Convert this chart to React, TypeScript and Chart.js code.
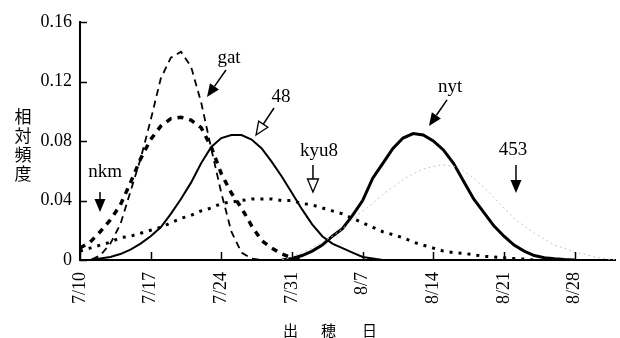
import React, { useEffect, useRef } from 'react';
import { Chart, registerables } from 'chart.js';

Chart.register(...registerables);

// x = days after 7/10
const xTickDays = [0, 7, 14, 21, 28, 35, 42, 49];
const xTickLabels = ['7/10', '7/17', '7/24', '7/31', '8/7', '8/14', '8/21', '8/28'];
const xMax = 53;
const yTickValues = [0, 0.04, 0.08, 0.12, 0.16];
const yTickLabels = ['0', '0.04', '0.08', '0.12', '0.16'];

const gatStart = 0;
const gatValues = [0, 0, 0.003, 0.011, 0.024, 0.046, 0.068, 0.094, 0.122, 0.136, 0.14, 0.13, 0.106, 0.075, 0.045, 0.019, 0.005, 0.001, 0];

const nkmStart = 0;
const nkmValues = [0.008, 0.012, 0.019, 0.027, 0.037, 0.052, 0.068, 0.081, 0.09, 0.095, 0.096, 0.094, 0.089, 0.076, 0.058, 0.045, 0.035, 0.023, 0.013, 0.008, 0.004, 0.0015, 0];

const s48Start = 0;
const s48Values = [0, 0, 0.001, 0.002, 0.004, 0.007, 0.011, 0.016, 0.022, 0.031, 0.041, 0.052, 0.065, 0.076, 0.082, 0.084, 0.084, 0.081, 0.075, 0.066, 0.056, 0.045, 0.034, 0.024, 0.016, 0.011, 0.008, 0.005, 0.002, 0.001, 0];

const kyu8Start = 0;
const kyu8Values = [0.006, 0.008, 0.01, 0.012, 0.015, 0.016, 0.018, 0.02, 0.022, 0.025, 0.028, 0.03, 0.033, 0.035, 0.038, 0.039, 0.04, 0.041, 0.041, 0.041, 0.04, 0.04, 0.038, 0.037, 0.035, 0.033, 0.031, 0.028, 0.025, 0.022, 0.019, 0.017, 0.015, 0.012, 0.01, 0.008, 0.006, 0.005, 0.0045, 0.0035, 0.0025, 0.002, 0.0015, 0.001, 0.0006, 0];

const nytStart = 20;
const nytValues = [0, 0.001, 0.003, 0.006, 0.01, 0.016, 0.021, 0.03, 0.04, 0.055, 0.065, 0.075, 0.082, 0.085, 0.084, 0.08, 0.074, 0.065, 0.053, 0.041, 0.032, 0.023, 0.016, 0.01, 0.006, 0.003, 0.0015, 0.0008, 0.0003, 0];

const s453Start = 20;
const s453Values = [0, 0.002, 0.005, 0.008, 0.012, 0.016, 0.021, 0.027, 0.033, 0.038, 0.044, 0.049, 0.054, 0.058, 0.061, 0.063, 0.064, 0.063, 0.06, 0.055, 0.049, 0.042, 0.035, 0.028, 0.023, 0.018, 0.014, 0.01, 0.008, 0.005, 0.004, 0.002, 0.001, 0];

// annotation labels: text position and arrow (start -> tip) in data units
const annLabels = ['gat', '48', 'kyu8', 'nkm', 'nyt', '453'];
const annTextX = [14.76, 19.91, 23.68, 2.48, 36.66, 42.9];
const annTextY = [0.1324, 0.1062, 0.0699, 0.0558, 0.1129, 0.0706];
const annFromX = [14.46, 19.22, 23.08, 1.98, 36.36, 43.19];
const annFromY = [0.1277, 0.1022, 0.0639, 0.0457, 0.1076, 0.0639];
const annToX = [12.58, 17.44, 23.08, 1.98, 34.57, 43.19];
const annToY = [0.1096, 0.084, 0.0457, 0.0323, 0.0901, 0.045];
const annFilled = [true, false, false, true, true, true];

const yTitleChars = ['相', '対', '頻', '度'];
const xTitleChars = ['出', '穂', '日'];

const SERIF = '"Liberation Serif", "DejaVu Serif", serif';
const CJK = '"Noto Sans CJK JP", sans-serif';

const toPoints = (start: number, values: number[]) => values.map((v, i) => ({ x: start + i, y: v }));

const overlayPlugin = {
  id: 'overlay',
  afterDraw(chart: any) {
    const ctx = chart.ctx as CanvasRenderingContext2D;
    const xs = chart.scales.x;
    const ys = chart.scales.y;
    const area = chart.chartArea;
    ctx.save();
    // inward tick marks
    ctx.strokeStyle = '#000';
    ctx.lineWidth = 1.5;
    ctx.beginPath();
    yTickValues.forEach((v) => {
      const y = Math.round(ys.getPixelForValue(v)) + 0.5;
      ctx.moveTo(area.left, y);
      ctx.lineTo(area.left + 7, y);
    });
    xTickDays.forEach((d) => {
      const x = Math.round(xs.getPixelForValue(d)) + 0.5;
      ctx.moveTo(x, area.bottom);
      ctx.lineTo(x, area.bottom - 8);
    });
    ctx.stroke();

    // annotations
    ctx.fillStyle = '#000';
    ctx.font = '19px ' + SERIF;
    ctx.textAlign = 'center';
    ctx.textBaseline = 'alphabetic';
    annLabels.forEach((t, i) => {
      ctx.fillText(t, xs.getPixelForValue(annTextX[i]), ys.getPixelForValue(annTextY[i]));
      const x1 = xs.getPixelForValue(annFromX[i]);
      const y1 = ys.getPixelForValue(annFromY[i]);
      const x2 = xs.getPixelForValue(annToX[i]);
      const y2 = ys.getPixelForValue(annToY[i]);
      const ang = Math.atan2(y2 - y1, x2 - x1);
      const len = 13;
      const hw = 5.5;
      const bx = x2 - len * Math.cos(ang);
      const by = y2 - len * Math.sin(ang);
      ctx.lineWidth = 1.5;
      ctx.beginPath();
      ctx.moveTo(x1, y1);
      ctx.lineTo(bx, by);
      ctx.stroke();
      ctx.beginPath();
      ctx.moveTo(x2, y2);
      ctx.lineTo(bx + hw * Math.sin(ang), by - hw * Math.cos(ang));
      ctx.lineTo(bx - hw * Math.sin(ang), by + hw * Math.cos(ang));
      ctx.closePath();
      if (annFilled[i]) {
        ctx.fill();
      } else {
        ctx.fillStyle = '#fff';
        ctx.fill();
        ctx.fillStyle = '#000';
        ctx.lineWidth = 1.3;
        ctx.stroke();
      }
    });

    // axis titles
    ctx.font = '17px ' + CJK;
    ctx.textBaseline = 'middle';
    yTitleChars.forEach((c, i) => {
      ctx.fillText(c, area.left - 57, 117 + i * 19);
    });
    ctx.font = '15px ' + CJK;
    const cx = (area.left + area.right) / 2;
    const offs = [-57, -19, 22];
    xTitleChars.forEach((c, i) => {
      ctx.fillText(c, cx + offs[i], 330);
    });
    ctx.restore();
  },
};

export default function App() {
  const canvasRef = useRef<HTMLCanvasElement | null>(null);

  useEffect(() => {
    const canvas = canvasRef.current;
    if (!canvas) return;
    const mk = (label: string, start: number, values: number[], width: number, dash: number[], color = '#000') => ({
      label,
      data: toPoints(start, values),
      borderColor: color,
      backgroundColor: color,
      borderWidth: width,
      borderDash: dash,
      pointRadius: 0,
      tension: 0,
      fill: false,
    });
    const chart = new Chart(canvas, {
      type: 'line',
      data: {
        datasets: [
          mk('453', s453Start, s453Values, 1, [2, 3], '#c4c4c4'),
          mk('kyu8', kyu8Start, kyu8Values, 3, [3, 6]),
          mk('nkm', nkmStart, nkmValues, 3.5, [6, 6]),
          mk('gat', gatStart, gatValues, 1.8, [7, 5]),
          mk('48', s48Start, s48Values, 2, []),
          mk('nyt', nytStart, nytValues, 3, []),
        ],
      },
      options: {
        animation: false,
        responsive: false,
        devicePixelRatio: 1,
        layout: { padding: { top: 22, right: 5, left: 0, bottom: 0 } },
        plugins: { legend: { display: false }, tooltip: { enabled: false } },
        scales: {
          x: {
            type: 'linear',
            min: 0,
            max: xMax,
            grid: { display: false, drawTicks: false },
            border: { display: true, color: '#000', width: 2 },
            afterBuildTicks: (scale: any) => {
              scale.ticks = xTickDays.map((value) => ({ value }));
            },
            afterFit: (scale: any) => {
              scale.height = 78;
            },
            ticks: {
              autoSkip: false,
              minRotation: 90,
              maxRotation: 90,
              padding: 12,
              color: '#000',
              font: { family: SERIF, size: 18 },
              callback: (_v: any, i: number) => xTickLabels[i],
            },
          },
          y: {
            type: 'linear',
            min: 0,
            max: 0.16,
            grid: { display: false, drawTicks: false },
            border: { display: true, color: '#000', width: 2 },
            afterBuildTicks: (scale: any) => {
              scale.ticks = yTickValues.map((value) => ({ value }));
            },
            afterFit: (scale: any) => {
              scale.width = 80;
            },
            ticks: {
              padding: 8,
              color: '#000',
              font: { family: SERIF, size: 18 },
              callback: (_v: any, i: number) => yTickLabels[i],
            },
          },
        },
      },
      plugins: [overlayPlugin],
    });
    return () => chart.destroy();
  }, []);

  return (
    <div style={{ position: 'fixed', left: 0, top: 0, width: 620, height: 338, background: '#fff' }}>
      <canvas ref={canvasRef} width={620} height={338} style={{ width: 620, height: 338 }} />
    </div>
  );
}
